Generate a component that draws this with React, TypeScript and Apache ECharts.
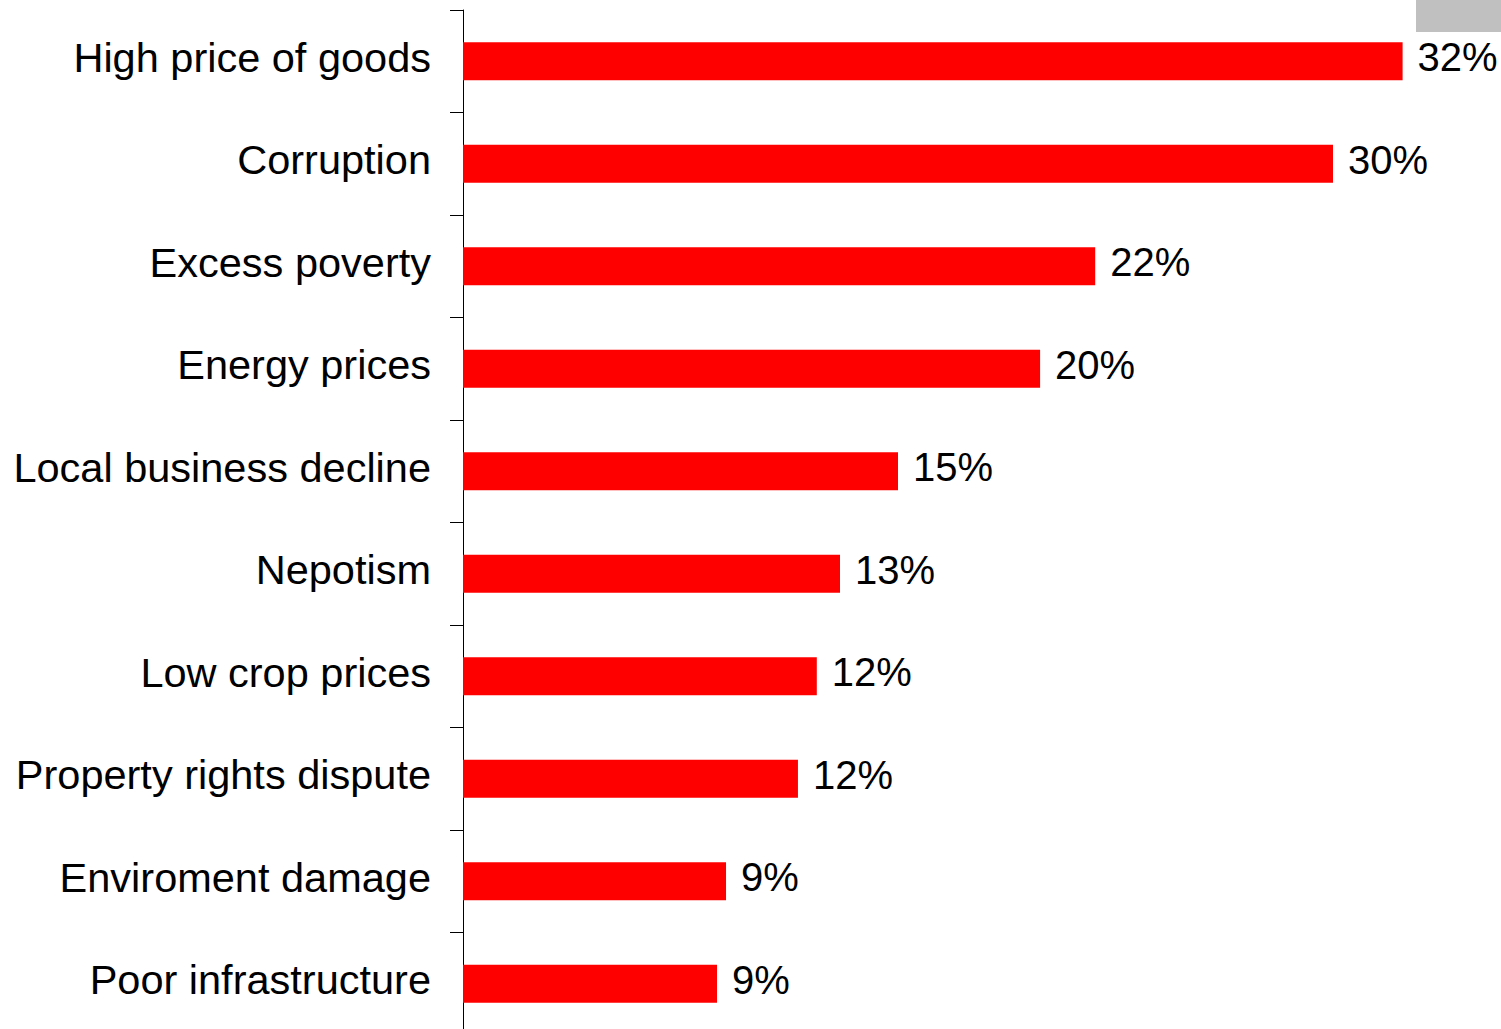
import React, { useEffect, useRef } from "react";
import * as echarts from "echarts";

const categories = [
  "High price of goods",
  "Corruption",
  "Excess poverty",
  "Energy prices",
  "Local business decline",
  "Nepotism",
  "Low crop prices",
  "Property rights dispute",
  "Enviroment damage",
  "Poor infrastructure",
];
const values = [32.4, 30.0, 21.8, 19.9, 15.0, 13.0, 12.2, 11.55, 9.07, 8.76];

export default function App() {
  const ref = useRef<HTMLDivElement>(null);
  useEffect(() => {
    if (!ref.current) return;
    const chart = echarts.init(ref.current, null, { renderer: "svg" });
    const font = "'Liberation Sans', Arial, Helvetica, sans-serif";
    chart.setOption({
      animation: false,
      backgroundColor: "#ffffff",
      grid: { left: 463, top: 10, width: 1015, height: 1025, containLabel: false },
      xAxis: {
        type: "value",
        min: 0,
        max: 35,
        show: false,
      },
      yAxis: {
        type: "category",
        data: categories,
        inverse: true,
        boundaryGap: true,
        axisLine: { show: true, lineStyle: { color: "#000000", width: 1 } },
        axisTick: { show: true, inside: false, length: 13, lineStyle: { color: "#000000" } },
        axisLabel: {
          margin: 32,
          color: "#000000",
          fontSize: 41.5,
          fontFamily: font,
          formatter: (v: string) => "{c|" + v + "}",
          rich: {
            c: {
              color: "#000000",
              fontSize: 41.5,
              fontFamily: font,
              lineHeight: 48,
              padding: [0, 0, 8, 0],
            },
          },
        },
        splitLine: { show: false },
      },
      graphic: [
        {
          type: "rect",
          left: 1416,
          top: 0,
          shape: { width: 85, height: 32 },
          style: { fill: "#c0c0c0" },
          z: 0,
        },
      ],
      series: [
        {
          type: "bar",
          data: values,
          barWidth: 38,
          itemStyle: { color: "#ff0000" },
          label: {
            show: true,
            position: "right",
            distance: 15,
            offset: [0, -4],
            color: "#000000",
            fontSize: 40,
            fontFamily: font,
            formatter: (p: any) => Math.round(p.value) + "%",
          },
          z: 2,
        },
      ],
    });
    return () => chart.dispose();
  }, []);
  return (
    <div
      ref={ref}
      style={{ position: "fixed", left: 0, top: 0, width: 1501, height: 1040 }}
    />
  );
}
